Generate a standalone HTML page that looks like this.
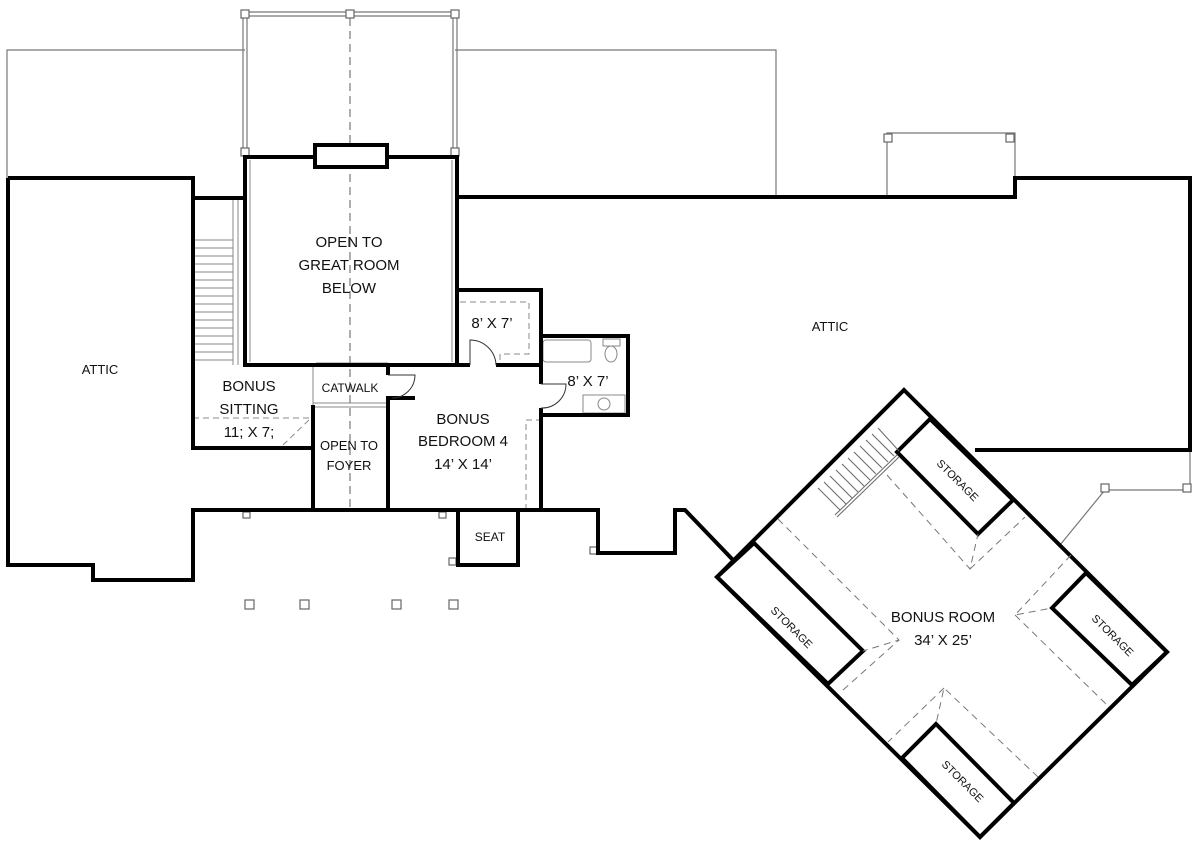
<!DOCTYPE html>
<html><head><meta charset="utf-8"><style>
html,body{margin:0;padding:0;background:#fff;}
svg{display:block;}
text{font-family:"Liberation Sans",sans-serif;fill:#111;}
</style></head><body>
<svg width="1200" height="847" viewBox="0 0 1200 847" xmlns="http://www.w3.org/2000/svg">
<g fill="none" stroke="#777" stroke-width="1.2">
  <polyline points="245,50 7,50 7,178"/>
  <polyline points="455,50 776,50 776,197"/>
  <polyline points="887,197 887,133 1015,133 1015,178"/>
  <polyline points="1190,450 1190,490 1105,490 1060,545"/>
  <line x1="245" y1="12" x2="455" y2="12"/><line x1="245" y1="16" x2="455" y2="16"/>
  <line x1="243" y1="14" x2="243" y2="152"/><line x1="247" y1="14" x2="247" y2="152"/>
  <line x1="453" y1="14" x2="453" y2="152"/><line x1="457" y1="14" x2="457" y2="152"/>
</g>
<g fill="#fff" stroke="#666" stroke-width="1.2">
  <rect x="241" y="10" width="8" height="8"/><rect x="346" y="10" width="8" height="8"/><rect x="451" y="10" width="8" height="8"/>
  <rect x="241" y="148" width="8" height="8"/><rect x="451" y="148" width="8" height="8"/>
  <rect x="884" y="134" width="8" height="8"/><rect x="1006" y="134" width="8" height="8"/>
  <rect x="1101" y="484" width="8" height="8"/><rect x="1183" y="484" width="8" height="8"/>
  <rect x="245" y="600" width="9" height="9"/><rect x="300" y="600" width="9" height="9"/><rect x="392" y="600" width="9" height="9"/><rect x="449" y="600" width="9" height="9"/>
  <rect x="243" y="512" width="7" height="6"/><rect x="439" y="512" width="7" height="6"/><rect x="449" y="558" width="7" height="7"/><rect x="590" y="547" width="7" height="7"/>
</g>
<line x1="350" y1="18" x2="350" y2="510" stroke="#777" stroke-width="1.2" stroke-dasharray="8,5"/>
<g stroke="#888" stroke-width="1" fill="none">
  <line x1="233" y1="200" x2="233" y2="365"/><line x1="238" y1="200" x2="238" y2="365"/>
  <line x1="193" y1="240" x2="233" y2="240"/><line x1="193" y1="248" x2="233" y2="248"/><line x1="193" y1="256" x2="233" y2="256"/>
  <line x1="193" y1="264" x2="233" y2="264"/><line x1="193" y1="272" x2="233" y2="272"/><line x1="193" y1="280" x2="233" y2="280"/>
  <line x1="193" y1="288" x2="233" y2="288"/><line x1="193" y1="296" x2="233" y2="296"/><line x1="193" y1="304" x2="233" y2="304"/>
  <line x1="193" y1="312" x2="233" y2="312"/><line x1="193" y1="320" x2="233" y2="320"/><line x1="193" y1="328" x2="233" y2="328"/>
  <line x1="193" y1="336" x2="233" y2="336"/><line x1="193" y1="344" x2="233" y2="344"/><line x1="193" y1="352" x2="233" y2="352"/>
  <line x1="193" y1="360" x2="233" y2="360"/>
  <line x1="313" y1="365" x2="313" y2="405"/><line x1="313" y1="403" x2="388" y2="403"/><line x1="313" y1="407" x2="388" y2="407"/>
  <line x1="316" y1="363" x2="388" y2="363"/><line x1="250" y1="160" x2="250" y2="362"/><line x1="452" y1="160" x2="452" y2="362"/>
  <rect x="543" y="340" width="48" height="22" rx="3"/><rect x="603" y="339" width="17" height="7"/><ellipse cx="611" cy="354" rx="6" ry="8"/>
  <rect x="583" y="395" width="42" height="18"/><circle cx="604" cy="404" r="6"/>
</g>
<g stroke="#888" stroke-width="1" fill="none" stroke-dasharray="6,4">
  <line x1="193" y1="418" x2="313" y2="418"/><line x1="283" y1="445" x2="311" y2="418"/>
  <polyline points="460,302 529,302 529,354 500,354 500,365"/>
  <polyline points="526,510 526,420 540,420"/>
</g>
<g fill="none" stroke="#000" stroke-width="4" stroke-linejoin="miter">
  <polyline points="8,178 193,178 193,448 313,448"/>
  <polyline points="193,198 245,198"/>
  <polyline points="8,178 8,565 93,565 93,580 193,580 193,510 458,510"/>
  <rect x="245" y="157" width="212" height="208"/>
  <rect x="315" y="145" width="72" height="22" fill="#fff"/>
  <polyline points="457,197 776,197 1015,197 1015,178 1190,178 1190,450 975,450"/>
  <polyline points="313,510 313,405"/>
  <polyline points="388,510 388,398 415,398"/>
  <polyline points="388,375 388,365 457,365 470,365"/>
  <polyline points="496,365 541,365"/>
  <polyline points="457,365 457,290 541,290 541,336 628,336 628,415 541,415 541,408"/>
  <polyline points="541,384 541,336"/>
  <polyline points="541,415 541,510"/>
  <rect x="458" y="510" width="60" height="55"/>
  <polyline points="518,510 598,510 598,553 675,553 675,510 685,510 733,560"/>
  <polygon points="904,390 1167,652 980,837 717,577"/>
  <polygon points="897,452 930,419 1013,500 978,534"/>
  <polygon points="717,577 754,543 863,651 828,684"/>
  <polygon points="1052,608 1086,573 1167,652 1132,685"/>
  <polygon points="902,758 936,724 1014,803 980,837"/>
</g>
<g fill="none" stroke="#333" stroke-width="1">
  <path d="M470,365 L470,340 A26,26 0 0 1 496,365"/>
  <path d="M541,384 L566,384 A24,24 0 0 1 541,408"/>
  <path d="M388,375 L415,375 A23,23 0 0 1 392,398"/>
</g>
<g stroke="#666" stroke-width="1" fill="none">
  <line x1="835" y1="515" x2="897" y2="455"/><line x1="837" y1="517" x2="899" y2="457"/>
  <line x1="840" y1="510" x2="818" y2="488"/><line x1="846" y1="504" x2="824" y2="482"/><line x1="852" y1="498" x2="830" y2="476"/>
  <line x1="858" y1="492" x2="836" y2="470"/><line x1="864" y1="486" x2="842" y2="464"/><line x1="870" y1="480" x2="848" y2="458"/>
  <line x1="876" y1="474" x2="854" y2="452"/><line x1="882" y1="468" x2="860" y2="446"/><line x1="888" y1="462" x2="866" y2="440"/>
  <line x1="894" y1="456" x2="872" y2="434"/><line x1="899" y1="451" x2="878" y2="428"/>
</g>
<g stroke="#777" stroke-width="1" fill="none" stroke-dasharray="7,5">
  <polyline points="778,519 899,640 863,651"/>
  <polyline points="843,690 899,640"/>
  <polyline points="887,475 970,569 978,534"/>
  <polyline points="970,569 1025,517"/>
  <polyline points="1071,555 1015,615 1052,608"/>
  <polyline points="1015,615 1107,705"/>
  <polyline points="1038,777 944,688 936,724"/>
  <polyline points="944,688 888,742"/>
</g>
<g font-size="15" text-anchor="middle">
  <text x="349" y="247">OPEN TO</text><text x="349" y="270">GREAT ROOM</text><text x="349" y="293">BELOW</text>
  <text x="249" y="391">BONUS</text><text x="249" y="414">SITTING</text><text x="249" y="437">11; X 7;</text>
  <text x="463" y="424">BONUS</text><text x="463" y="446">BEDROOM 4</text><text x="463" y="469">14’ X 14’</text>
  <text x="492" y="328">8’ X 7’</text><text x="588" y="386">8’ X 7’</text>
  <text x="943" y="622">BONUS ROOM</text><text x="943" y="645">34’ X 25’</text>
</g>
<g font-size="13" text-anchor="middle">
  <text x="100" y="374">ATTIC</text><text x="830" y="331">ATTIC</text>
  <text x="349" y="450">OPEN TO</text><text x="349" y="470">FOYER</text>
  <text x="350" y="392" font-size="12">CATWALK</text>
  <text x="490" y="541" font-size="12">SEAT</text>
</g>
<g font-size="11" text-anchor="middle">
  <text transform="translate(955,483) rotate(45)">STORAGE</text>
  <text transform="translate(789,630) rotate(45)">STORAGE</text>
  <text transform="translate(1110,638) rotate(45)">STORAGE</text>
  <text transform="translate(960,784) rotate(45)">STORAGE</text>
</g>
</svg>
</body></html>
